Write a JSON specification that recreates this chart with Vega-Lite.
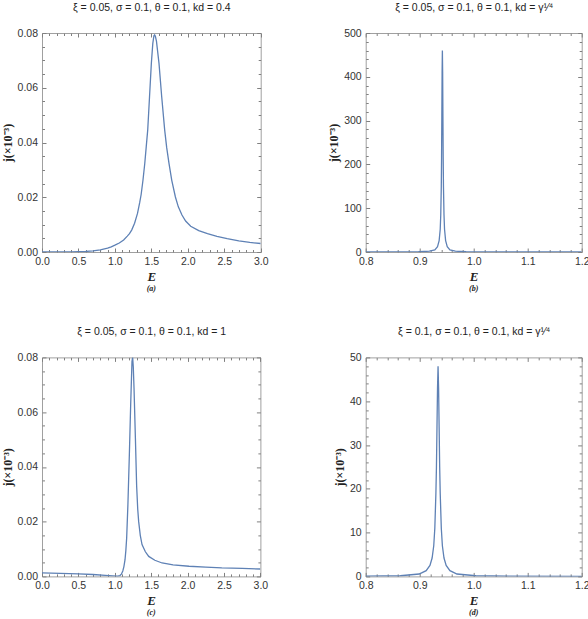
{
"$schema": "https://vega.github.io/schema/vega-lite/v6.json",
"background": "white",
"padding": {"left": 0, "top": 2, "right": 2, "bottom": 2},
"columns": 2,
"spacing": {"row": 105.4, "column": 104.7},
"bounds": "flush",
"datasets": {
"a": [{"E":0,"j":0},{"E":0.2,"j":0},{"E":0.4,"j":0.00005},{"E":0.5,"j":0.0001},{"E":0.6,"j":0.0002},{"E":0.7,"j":0.0004},{"E":0.8,"j":0.0008},{"E":0.9,"j":0.0014},{"E":0.95,"j":0.0019},{"E":1.0,"j":0.0025},{"E":1.06,"j":0.0033},{"E":1.12,"j":0.0044},{"E":1.17,"j":0.0058},{"E":1.2,"j":0.0067},{"E":1.23,"j":0.008},{"E":1.27,"j":0.0105},{"E":1.31,"j":0.0141},{"E":1.34,"j":0.018},{"E":1.36,"j":0.021},{"E":1.385,"j":0.0262},{"E":1.41,"j":0.0324},{"E":1.43,"j":0.0385},{"E":1.45,"j":0.0445},{"E":1.475,"j":0.0567},{"E":1.5,"j":0.0689},{"E":1.52,"j":0.0762},{"E":1.535,"j":0.079},{"E":1.545,"j":0.0793},{"E":1.555,"j":0.0788},{"E":1.57,"j":0.077},{"E":1.605,"j":0.0689},{"E":1.642,"j":0.0567},{"E":1.683,"j":0.0445},{"E":1.71,"j":0.0382},{"E":1.742,"j":0.0324},{"E":1.78,"j":0.0262},{"E":1.83,"j":0.0201},{"E":1.87,"j":0.0165},{"E":1.92,"j":0.0135},{"E":1.97,"j":0.0113},{"E":2.04,"j":0.0094},{"E":2.15,"j":0.0078},{"E":2.27,"j":0.0067},{"E":2.4,"j":0.0057},{"E":2.54,"j":0.0049},{"E":2.7,"j":0.0041},{"E":2.85,"j":0.0035},{"E":3.0,"j":0.0031}],
"b": [{"E":0.8,"j":0.06},{"E":0.85,"j":0.15},{"E":0.898,"j":0.6},{"E":0.918,"j":1.8},{"E":0.928,"j":5},{"E":0.933,"j":12},{"E":0.936,"j":26},{"E":0.938,"j":52},{"E":0.939,"j":85},{"E":0.94,"j":150},{"E":0.9405,"j":215},{"E":0.941,"j":310},{"E":0.9415,"j":410},{"E":0.942,"j":460},{"E":0.9425,"j":410},{"E":0.943,"j":310},{"E":0.9435,"j":215},{"E":0.944,"j":150},{"E":0.945,"j":85},{"E":0.946,"j":52},{"E":0.948,"j":26},{"E":0.951,"j":12},{"E":0.956,"j":5},{"E":0.966,"j":1.8},{"E":0.986,"j":0.6},{"E":1.036,"j":0.15},{"E":1.1,"j":0.05},{"E":1.2,"j":0.02}],
"c": [{"E":0,"j":0.0013},{"E":0.25,"j":0.0011},{"E":0.5,"j":0.0009},{"E":0.7,"j":0.0007},{"E":0.87,"j":0.0004},{"E":0.97,"j":0.0002},{"E":1.04,"j":0.0001},{"E":1.07,"j":0.0003},{"E":1.09,"j":0.0008},{"E":1.11,"j":0.002},{"E":1.125,"j":0.0036},{"E":1.14,"j":0.006},{"E":1.152,"j":0.0095},{"E":1.163,"j":0.014},{"E":1.18,"j":0.0262},{"E":1.2,"j":0.0445},{"E":1.218,"j":0.0627},{"E":1.236,"j":0.0785},{"E":1.245,"j":0.08},{"E":1.254,"j":0.0765},{"E":1.264,"j":0.0688},{"E":1.283,"j":0.0505},{"E":1.3,"j":0.033},{"E":1.315,"j":0.0245},{"E":1.328,"j":0.02},{"E":1.35,"j":0.015},{"E":1.374,"j":0.0116},{"E":1.42,"j":0.009},{"E":1.466,"j":0.0073},{"E":1.55,"j":0.0059},{"E":1.65,"j":0.0049},{"E":1.8,"j":0.0042},{"E":2.02,"j":0.0037},{"E":2.25,"j":0.0034},{"E":2.47,"j":0.0031},{"E":2.75,"j":0.0029},{"E":3.0,"j":0.0027}],
"d": [{"E":0.8,"j":0.04},{"E":0.864,"j":0.15},{"E":0.899,"j":0.55},{"E":0.912,"j":1.3},{"E":0.919,"j":2.5},{"E":0.923,"j":4.2},{"E":0.926,"j":7},{"E":0.928,"j":11},{"E":0.93,"j":19},{"E":0.931,"j":25},{"E":0.932,"j":34},{"E":0.933,"j":43},{"E":0.934,"j":48},{"E":0.935,"j":43},{"E":0.936,"j":34},{"E":0.937,"j":25},{"E":0.938,"j":19},{"E":0.94,"j":11},{"E":0.942,"j":7},{"E":0.945,"j":4.2},{"E":0.949,"j":2.5},{"E":0.956,"j":1.3},{"E":0.969,"j":0.55},{"E":1.004,"j":0.15},{"E":1.064,"j":0.05},{"E":1.2,"j":0.02}]
},
"concat": [
{
"width": 218.7, "height": 219,
"data": {"name": "a"},
"title": {"text": "(a)", "orient": "bottom", "frame": "group", "offset": 2},
"layer": [
{"mark": {"type": "line", "color": "#5E81B5", "strokeWidth": 1.3, "clip": true},
 "encoding": {
  "x": {"field": "E", "type": "quantitative", "scale": {"domain": [0, 3], "nice": false, "zero": false},
        "axis": {"orient": "bottom", "values": [0,0.5,1,1.5,2,2.5,3], "format": ".1f", "title": "E", "tickSize": -4, "labelPadding": 8.5, "titleFont": "Liberation Serif", "titleFontStyle": "italic", "titleFontWeight": "bold", "titleFontSize": 13, "titlePadding": 3}},
  "y": {"field": "j", "type": "quantitative", "scale": {"domain": [0, 0.08], "nice": false, "zero": false},
        "axis": {"orient": "left", "values": [0,0.02,0.04,0.06,0.08], "format": ".2f", "title": "j(×10⁻³)", "tickSize": -4, "labelPadding": 8.5, "titleFont": "Liberation Serif", "titleFontWeight": "bold", "titleFontSize": 12, "titlePadding": 3}}}},
{"mark": {"type": "line", "strokeOpacity": 0},
 "encoding": {
  "x": {"field": "E", "type": "quantitative", "scale": {"domain": [0, 3], "nice": false, "zero": false},
        "axis": {"orient": "top", "values": [0,0.5,1,1.5,2,2.5,3], "labels": false, "tickSize": -4, "title": "ξ = 0.05, σ = 0.1, θ = 0.1, kd = 0.4", "titleFont": "Liberation Sans", "titleFontWeight": "normal", "titleFontSize": 10.5, "titlePadding": 20}},
  "y": {"field": "j", "type": "quantitative", "scale": {"domain": [0, 0.08], "nice": false, "zero": false},
        "axis": {"orient": "right", "values": [0,0.02,0.04,0.06,0.08], "labels": false, "tickSize": -4, "title": null}}}},
{"mark": {"type": "line", "strokeOpacity": 0},
 "encoding": {
  "x": {"field": "E", "type": "quantitative", "scale": {"domain": [0, 3], "nice": false, "zero": false},
        "axis": {"orient": "bottom", "values": [0.1,0.2,0.3,0.4,0.6,0.7,0.8,0.9,1.1,1.2,1.3,1.4,1.6,1.7,1.8,1.9,2.1,2.2,2.3,2.4,2.6,2.7,2.8,2.9], "labels": false, "tickSize": -2.5, "title": null}},
  "y": {"field": "j", "type": "quantitative", "scale": {"domain": [0, 0.08], "nice": false, "zero": false},
        "axis": {"orient": "left", "values": [0.005,0.01,0.015,0.025,0.03,0.035,0.045,0.05,0.055,0.065,0.07,0.075], "labels": false, "tickSize": -2.5, "title": null}}}},
{"mark": {"type": "line", "strokeOpacity": 0},
 "encoding": {
  "x": {"field": "E", "type": "quantitative", "scale": {"domain": [0, 3], "nice": false, "zero": false},
        "axis": {"orient": "top", "values": [0.1,0.2,0.3,0.4,0.6,0.7,0.8,0.9,1.1,1.2,1.3,1.4,1.6,1.7,1.8,1.9,2.1,2.2,2.3,2.4,2.6,2.7,2.8,2.9], "labels": false, "tickSize": -2.5, "title": null}},
  "y": {"field": "j", "type": "quantitative", "scale": {"domain": [0, 0.08], "nice": false, "zero": false},
        "axis": {"orient": "right", "values": [0.005,0.01,0.015,0.025,0.03,0.035,0.045,0.05,0.055,0.065,0.07,0.075], "labels": false, "tickSize": -2.5, "title": null}}}}
],
"resolve": {"axis": {"x": "independent", "y": "independent"}}
},
{
"width": 216, "height": 219,
"data": {"name": "b"},
"title": {"text": "(b)", "orient": "bottom", "frame": "group", "offset": 2},
"layer": [
{"mark": {"type": "line", "color": "#5E81B5", "strokeWidth": 1.3, "clip": true},
 "encoding": {
  "x": {"field": "E", "type": "quantitative", "scale": {"domain": [0.8, 1.2], "nice": false, "zero": false},
        "axis": {"orient": "bottom", "values": [0.8,0.9,1,1.1,1.2], "format": ".1f", "title": "E", "tickSize": -4, "labelPadding": 8.5, "titleFont": "Liberation Serif", "titleFontStyle": "italic", "titleFontWeight": "bold", "titleFontSize": 13, "titlePadding": 3}},
  "y": {"field": "j", "type": "quantitative", "scale": {"domain": [0, 500], "nice": false, "zero": false},
        "axis": {"orient": "left", "values": [0,100,200,300,400,500], "format": "d", "title": "j(×10⁻³)", "tickSize": -4, "labelPadding": 8.5, "titleFont": "Liberation Serif", "titleFontWeight": "bold", "titleFontSize": 12, "titlePadding": 3}}}},
{"mark": {"type": "line", "strokeOpacity": 0},
 "encoding": {
  "x": {"field": "E", "type": "quantitative", "scale": {"domain": [0.8, 1.2], "nice": false, "zero": false},
        "axis": {"orient": "top", "values": [0.8,0.9,1,1.1,1.2], "labels": false, "tickSize": -4, "title": "ξ = 0.05, σ = 0.1, θ = 0.1, kd = γ¹⁄⁴", "titleFont": "Liberation Sans", "titleFontWeight": "normal", "titleFontSize": 10.5, "titlePadding": 20}},
  "y": {"field": "j", "type": "quantitative", "scale": {"domain": [0, 500], "nice": false, "zero": false},
        "axis": {"orient": "right", "values": [0,100,200,300,400,500], "labels": false, "tickSize": -4, "title": null}}}},
{"mark": {"type": "line", "strokeOpacity": 0},
 "encoding": {
  "x": {"field": "E", "type": "quantitative", "scale": {"domain": [0.8, 1.2], "nice": false, "zero": false},
        "axis": {"orient": "bottom", "values": [0.82,0.84,0.86,0.88,0.92,0.94,0.96,0.98,1.02,1.04,1.06,1.08,1.12,1.14,1.16,1.18], "labels": false, "tickSize": -2.5, "title": null}},
  "y": {"field": "j", "type": "quantitative", "scale": {"domain": [0, 500], "nice": false, "zero": false},
        "axis": {"orient": "left", "values": [20,40,60,80,120,140,160,180,220,240,260,280,320,340,360,380,420,440,460,480], "labels": false, "tickSize": -2.5, "title": null}}}},
{"mark": {"type": "line", "strokeOpacity": 0},
 "encoding": {
  "x": {"field": "E", "type": "quantitative", "scale": {"domain": [0.8, 1.2], "nice": false, "zero": false},
        "axis": {"orient": "top", "values": [0.82,0.84,0.86,0.88,0.92,0.94,0.96,0.98,1.02,1.04,1.06,1.08,1.12,1.14,1.16,1.18], "labels": false, "tickSize": -2.5, "title": null}},
  "y": {"field": "j", "type": "quantitative", "scale": {"domain": [0, 500], "nice": false, "zero": false},
        "axis": {"orient": "right", "values": [20,40,60,80,120,140,160,180,220,240,260,280,320,340,360,380,420,440,460,480], "labels": false, "tickSize": -2.5, "title": null}}}}
],
"resolve": {"axis": {"x": "independent", "y": "independent"}}
},
{
"width": 218.4, "height": 219,
"data": {"name": "c"},
"title": {"text": "(c)", "orient": "bottom", "frame": "group", "offset": 2},
"layer": [
{"mark": {"type": "line", "color": "#5E81B5", "strokeWidth": 1.3, "clip": true},
 "encoding": {
  "x": {"field": "E", "type": "quantitative", "scale": {"domain": [0, 3], "nice": false, "zero": false},
        "axis": {"orient": "bottom", "values": [0,0.5,1,1.5,2,2.5,3], "format": ".1f", "title": "E", "tickSize": -4, "labelPadding": 8.5, "titleFont": "Liberation Serif", "titleFontStyle": "italic", "titleFontWeight": "bold", "titleFontSize": 13, "titlePadding": 3}},
  "y": {"field": "j", "type": "quantitative", "scale": {"domain": [0, 0.08], "nice": false, "zero": false},
        "axis": {"orient": "left", "values": [0,0.02,0.04,0.06,0.08], "format": ".2f", "title": "j(×10⁻³)", "tickSize": -4, "labelPadding": 8.5, "titleFont": "Liberation Serif", "titleFontWeight": "bold", "titleFontSize": 12, "titlePadding": 3}}}},
{"mark": {"type": "line", "strokeOpacity": 0},
 "encoding": {
  "x": {"field": "E", "type": "quantitative", "scale": {"domain": [0, 3], "nice": false, "zero": false},
        "axis": {"orient": "top", "values": [0,0.5,1,1.5,2,2.5,3], "labels": false, "tickSize": -4, "title": "ξ = 0.05, σ = 0.1, θ = 0.1, kd = 1", "titleFont": "Liberation Sans", "titleFontWeight": "normal", "titleFontSize": 10.5, "titlePadding": 20}},
  "y": {"field": "j", "type": "quantitative", "scale": {"domain": [0, 0.08], "nice": false, "zero": false},
        "axis": {"orient": "right", "values": [0,0.02,0.04,0.06,0.08], "labels": false, "tickSize": -4, "title": null}}}},
{"mark": {"type": "line", "strokeOpacity": 0},
 "encoding": {
  "x": {"field": "E", "type": "quantitative", "scale": {"domain": [0, 3], "nice": false, "zero": false},
        "axis": {"orient": "bottom", "values": [0.1,0.2,0.3,0.4,0.6,0.7,0.8,0.9,1.1,1.2,1.3,1.4,1.6,1.7,1.8,1.9,2.1,2.2,2.3,2.4,2.6,2.7,2.8,2.9], "labels": false, "tickSize": -2.5, "title": null}},
  "y": {"field": "j", "type": "quantitative", "scale": {"domain": [0, 0.08], "nice": false, "zero": false},
        "axis": {"orient": "left", "values": [0.005,0.01,0.015,0.025,0.03,0.035,0.045,0.05,0.055,0.065,0.07,0.075], "labels": false, "tickSize": -2.5, "title": null}}}},
{"mark": {"type": "line", "strokeOpacity": 0},
 "encoding": {
  "x": {"field": "E", "type": "quantitative", "scale": {"domain": [0, 3], "nice": false, "zero": false},
        "axis": {"orient": "top", "values": [0.1,0.2,0.3,0.4,0.6,0.7,0.8,0.9,1.1,1.2,1.3,1.4,1.6,1.7,1.8,1.9,2.1,2.2,2.3,2.4,2.6,2.7,2.8,2.9], "labels": false, "tickSize": -2.5, "title": null}},
  "y": {"field": "j", "type": "quantitative", "scale": {"domain": [0, 0.08], "nice": false, "zero": false},
        "axis": {"orient": "right", "values": [0.005,0.01,0.015,0.025,0.03,0.035,0.045,0.05,0.055,0.065,0.07,0.075], "labels": false, "tickSize": -2.5, "title": null}}}}
],
"resolve": {"axis": {"x": "independent", "y": "independent"}}
},
{
"width": 216, "height": 219,
"data": {"name": "d"},
"title": {"text": "(d)", "orient": "bottom", "frame": "group", "offset": 2},
"layer": [
{"mark": {"type": "line", "color": "#5E81B5", "strokeWidth": 1.3, "clip": true},
 "encoding": {
  "x": {"field": "E", "type": "quantitative", "scale": {"domain": [0.8, 1.2], "nice": false, "zero": false},
        "axis": {"orient": "bottom", "values": [0.8,0.9,1,1.1,1.2], "format": ".1f", "title": "E", "tickSize": -4, "labelPadding": 8.5, "titleFont": "Liberation Serif", "titleFontStyle": "italic", "titleFontWeight": "bold", "titleFontSize": 13, "titlePadding": 3}},
  "y": {"field": "j", "type": "quantitative", "scale": {"domain": [0, 50], "nice": false, "zero": false},
        "axis": {"orient": "left", "values": [0,10,20,30,40,50], "format": "d", "title": "j(×10⁻³)", "tickSize": -4, "labelPadding": 8.5, "titleFont": "Liberation Serif", "titleFontWeight": "bold", "titleFontSize": 12, "titlePadding": 3}}}},
{"mark": {"type": "line", "strokeOpacity": 0},
 "encoding": {
  "x": {"field": "E", "type": "quantitative", "scale": {"domain": [0.8, 1.2], "nice": false, "zero": false},
        "axis": {"orient": "top", "values": [0.8,0.9,1,1.1,1.2], "labels": false, "tickSize": -4, "title": "ξ = 0.1, σ = 0.1, θ = 0.1, kd = γ¹⁄⁴", "titleFont": "Liberation Sans", "titleFontWeight": "normal", "titleFontSize": 10.5, "titlePadding": 20}},
  "y": {"field": "j", "type": "quantitative", "scale": {"domain": [0, 50], "nice": false, "zero": false},
        "axis": {"orient": "right", "values": [0,10,20,30,40,50], "labels": false, "tickSize": -4, "title": null}}}},
{"mark": {"type": "line", "strokeOpacity": 0},
 "encoding": {
  "x": {"field": "E", "type": "quantitative", "scale": {"domain": [0.8, 1.2], "nice": false, "zero": false},
        "axis": {"orient": "bottom", "values": [0.82,0.84,0.86,0.88,0.92,0.94,0.96,0.98,1.02,1.04,1.06,1.08,1.12,1.14,1.16,1.18], "labels": false, "tickSize": -2.5, "title": null}},
  "y": {"field": "j", "type": "quantitative", "scale": {"domain": [0, 50], "nice": false, "zero": false},
        "axis": {"orient": "left", "values": [2,4,6,8,12,14,16,18,22,24,26,28,32,34,36,38,42,44,46,48], "labels": false, "tickSize": -2.5, "title": null}}}},
{"mark": {"type": "line", "strokeOpacity": 0},
 "encoding": {
  "x": {"field": "E", "type": "quantitative", "scale": {"domain": [0.8, 1.2], "nice": false, "zero": false},
        "axis": {"orient": "top", "values": [0.82,0.84,0.86,0.88,0.92,0.94,0.96,0.98,1.02,1.04,1.06,1.08,1.12,1.14,1.16,1.18], "labels": false, "tickSize": -2.5, "title": null}},
  "y": {"field": "j", "type": "quantitative", "scale": {"domain": [0, 50], "nice": false, "zero": false},
        "axis": {"orient": "right", "values": [2,4,6,8,12,14,16,18,22,24,26,28,32,34,36,38,42,44,46,48], "labels": false, "tickSize": -2.5, "title": null}}}}
],
"resolve": {"axis": {"x": "independent", "y": "independent"}}
}
],
"config": {
"view": {"stroke": "#a0a0a0", "strokeWidth": 1},
"axis": {"domain": false, "grid": false, "labelFont": "Liberation Sans", "labelFontSize": 10.5, "labelColor": "#333333", "tickColor": "#808080", "tickWidth": 1, "titleColor": "#222222", "labelFlush": false, "labelOverlap": false},
"title": {"font": "Liberation Serif", "fontSize": 8, "fontStyle": "italic", "fontWeight": "bold", "color": "#222222"}
}
}
